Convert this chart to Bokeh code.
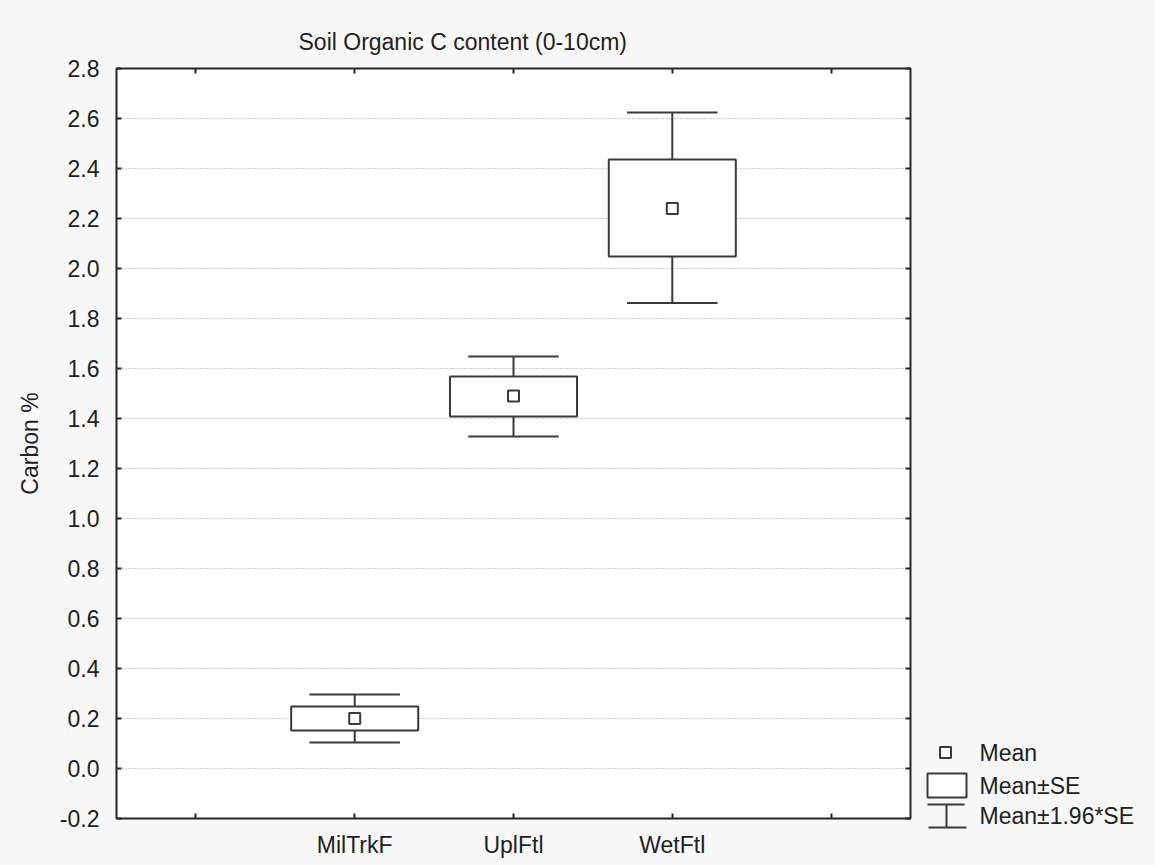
from bokeh.plotting import figure
from bokeh.models import (Range1d, LinearAxis, FixedTicker, PrintfTickFormatter,
                          Label, ColumnDataSource, Grid, CustomLabelingPolicy, Spacer)
from bokeh.layouts import row, column
from bokeh.embed import file_html
from bokeh.resources import INLINE

# ---- data ----
title_text = "Soil Organic C content (0-10cm)"
y_label = "Carbon %"
categories = ["MilTrkF", "UplFtl", "WetFtl"]
means = [0.20, 1.49, 2.24]
se_low = [0.152, 1.408, 2.048]
se_high = [0.248, 1.568, 2.436]
ci_low = [0.104, 1.328, 1.862]
ci_high = [0.296, 1.648, 2.624]
y_ticks = [-0.2, 0.0, 0.2, 0.4, 0.6, 0.8, 1.0, 1.2, 1.4, 1.6, 1.8, 2.0, 2.2, 2.4, 2.6, 2.8]
legend_labels = ["Mean", "Mean\u00b1SE", "Mean\u00b11.96*SE"]

FONT = "Liberation Sans"
FS = "23px"
INK = "#3a3a3a"
TXT = "#222222"
BG = "#f8f8f8"

xs = [i + 1 for i in range(len(categories))]
box_half = 0.4
cap_half = 0.285

src = ColumnDataSource(dict(
    x=xs, mean=means, se_low=se_low, se_high=se_high, ci_low=ci_low, ci_high=ci_high,
    left=[x - box_half for x in xs], right=[x + box_half for x in xs],
    cl=[x - cap_half for x in xs], cr=[x + cap_half for x in xs],
))

p = figure(width=920, height=865, output_backend="svg", toolbar_location=None,
           x_range=Range1d(-0.5, 4.5), y_range=Range1d(-0.2, 2.8),
           min_border_left=116, min_border_right=10, min_border_top=68,
           min_border_bottom=47, x_axis_type=None, y_axis_type=None)
p.border_fill_color = BG
p.background_fill_color = "white"
p.outline_line_color = "#262626"
p.outline_line_width = 2

p.title.text = title_text
p.title.text_font = FONT
p.title.text_font_size = FS
p.title.text_font_style = "normal"
p.title.text_color = TXT
p.title.align = "left"
p.title.offset = 182
p.title.standoff = 19

x_ticker = FixedTicker(ticks=[0, 1, 2, 3, 4])
overrides = {0: "", 4: ""}
for x, c in zip(xs, categories):
    overrides[x] = c

no_labels = CustomLabelingPolicy(code="""
    const all = [...indices]
    for (const i of all) indices.unset(i)
    return indices
""")

def style_axis(ax, labels=True):
    ax.axis_line_color = None
    ax.major_tick_in = 5
    ax.major_tick_out = 0
    ax.major_tick_line_width = 2
    ax.major_tick_line_color = "#262626"
    ax.minor_tick_line_color = None
    ax.major_label_text_font = FONT
    ax.major_label_text_color = TXT
    if labels:
        ax.major_label_text_font_size = FS
    else:
        ax.major_label_text_font_size = "1px"
        ax.major_label_policy = no_labels
        ax.major_label_standoff = 0

bottom = LinearAxis(ticker=x_ticker, major_label_overrides=overrides)
style_axis(bottom)
bottom.major_label_standoff = 13
p.add_layout(bottom, "below")

top = LinearAxis(ticker=x_ticker)
style_axis(top, labels=False)
p.add_layout(top, "above")

left = LinearAxis(ticker=FixedTicker(ticks=y_ticks), formatter=PrintfTickFormatter(format="%.1f"))
style_axis(left)
left.major_label_standoff = 17
left.axis_label = y_label
left.axis_label_text_font = FONT
left.axis_label_text_font_size = FS
left.axis_label_text_font_style = "normal"
left.axis_label_text_color = TXT
left.axis_label_standoff = 14
p.add_layout(left, "left")

right = LinearAxis(ticker=FixedTicker(ticks=y_ticks))
style_axis(right, labels=False)
p.add_layout(right, "right")

grid = Grid(dimension=1, ticker=FixedTicker(ticks=y_ticks[1:-1]),
            grid_line_color="#a0a0a0", grid_line_dash="1 2", grid_line_width=1)
p.add_layout(grid)

# whiskers
p.segment(x0="x", y0="se_high", x1="x", y1="ci_high", source=src, line_color=INK, line_width=2)
p.segment(x0="x", y0="ci_low", x1="x", y1="se_low", source=src, line_color=INK, line_width=2)
p.segment(x0="cl", y0="ci_high", x1="cr", y1="ci_high", source=src, line_color=INK, line_width=2)
p.segment(x0="cl", y0="ci_low", x1="cr", y1="ci_low", source=src, line_color=INK, line_width=2)
# boxes
p.quad(left="left", right="right", bottom="se_low", top="se_high", source=src,
       fill_color="white", line_color=INK, line_width=2)
# means
p.scatter(x="x", y="mean", source=src, marker="square", size=11,
          fill_color="white", line_color=INK, line_width=2)

# ---- legend panel (bottom of right column) ----
LH = 130
leg = figure(width=235, height=LH, output_backend="svg", toolbar_location=None,
             x_range=Range1d(0, 235), y_range=Range1d(LH, 0),
             min_border=0, x_axis_type=None, y_axis_type=None)
leg.border_fill_color = BG
leg.background_fill_color = BG
leg.outline_line_color = None

leg.scatter(x=[25], y=[17], marker="square", size=11, fill_color="white",
            line_color=INK, line_width=2)
leg.quad(left=[7], right=[46], top=[38], bottom=[62], fill_color="white",
         line_color=INK, line_width=2)
leg.segment(x0=[7, 26, 8], y0=[69, 69, 92], x1=[44, 26, 46], y1=[69, 92, 92],
            line_color=INK, line_width=2)
for ty, txt in zip([17, 50, 80], legend_labels):
    leg.add_layout(Label(x=59, y=ty, text=txt, text_font=FONT, text_font_size=FS,
                         text_baseline="middle", text_color=TXT))

spacer = Spacer(width=235, height=865 - LH, styles={"background-color": BG})
right_col = column(spacer, leg, styles={"background-color": BG})
layout = row(p, right_col, styles={"background-color": BG})

open("out.html", "w").write(file_html(layout, INLINE))
